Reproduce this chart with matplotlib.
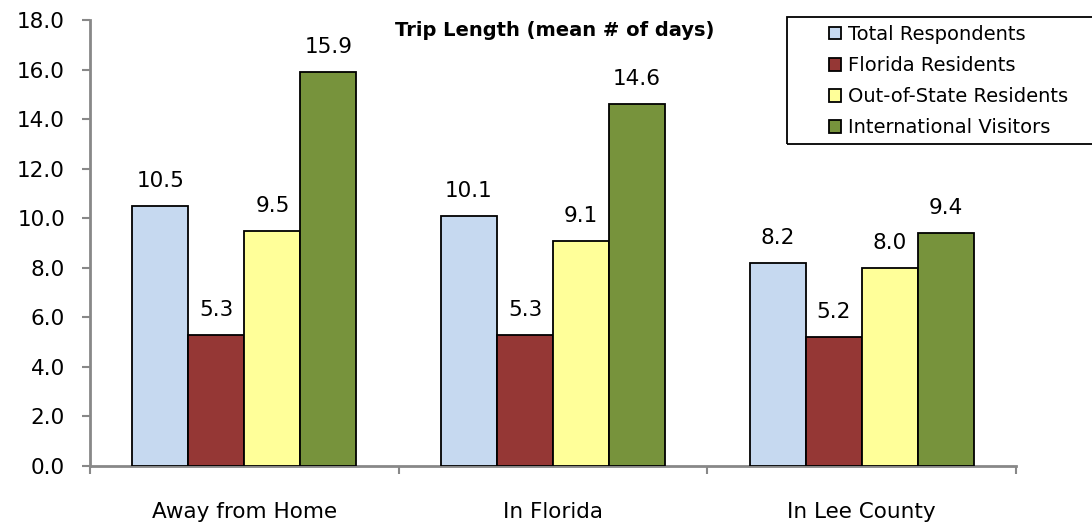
import matplotlib
matplotlib.use("Agg")
import matplotlib.pyplot as plt
import matplotlib.patches as mpatches
import numpy as np

plt.rcParams['font.family'] = ['DejaVu Sans']

categories = ["Away from Home", "In Florida", "In Lee County"]
series_names = ["Total Respondents", "Florida Residents", "Out-of-State Residents", "International Visitors"]
total = [10.5, 10.1, 8.2]
florida = [5.3, 5.3, 5.2]
out_of_state = [9.5, 9.1, 8.0]
international = [15.9, 14.6, 9.4]
colors = ["#C6D9F0", "#953735", "#FFFF99", "#77933C"]
yticks = [0, 2, 4, 6, 8, 10, 12, 14, 16, 18]

fig = plt.figure(figsize=(10.92, 5.26), dpi=100)
ax = fig.add_axes([90/1092, 1 - 466/526, (1016 - 90)/1092, (466 - 20)/526])

series = [total, florida, out_of_state, international]
n = len(series)
bw = 56/308.7
x = np.arange(len(categories))
handles = []
for i, (vals, col, name) in enumerate(zip(series, colors, series_names)):
    pos = x + (i - (n - 1)/2) * bw
    bars = ax.bar(pos, vals, width=bw, color=col, edgecolor='black', linewidth=1.3, label=name, zorder=3)
    handles.append(bars)
    for b, v in zip(bars, vals):
        ax.annotate(f"{v:.1f}", (b.get_x() + b.get_width()/2, v), xytext=(0, 13.5),
                    textcoords='offset points', ha='center', va='baseline', fontsize=15.5)

ax.set_xlim(-0.5, len(categories) - 0.5)
ax.set_ylim(0, 18)
ax.set_yticks(yticks)
ax.set_yticklabels([f"{t:.1f}" for t in yticks], fontsize=15.5)
ax.set_xticks(x)
ax.set_xticklabels(categories, fontsize=15.5)
ax.tick_params(axis='x', length=0, pad=26)
ax.set_xticks(np.arange(len(categories) + 1) - 0.5, minor=True)
ax.tick_params(axis='x', which='minor', length=6, color='#888888', width=1.5, direction='out')
ax.tick_params(axis='y', length=6, color='#888888', width=1.5, direction='out', pad=12)

for s in ['top', 'right']:
    ax.spines[s].set_visible(False)
for s in ['left', 'bottom']:
    ax.spines[s].set_color('#888888')
    ax.spines[s].set_linewidth(2)

fig.text(555/1092, 1 - 31/526, "Trip Length (mean # of days)", ha='center', va='center',
         fontsize=14, fontweight='bold')

# legend frame (extends beyond the right edge as in the original)
frame = mpatches.Rectangle((787/1092, 1 - 144/526), 0.3, 127/526, transform=fig.transFigure,
                           fill=False, edgecolor='black', linewidth=1.3, clip_on=False)
fig.patches.append(frame)

leg = fig.legend(handles=handles, labels=series_names, loc='upper left',
                 bbox_to_anchor=(829/1092, 1 - 25/526), fontsize=14,
                 frameon=False, handlelength=0.62, handleheight=0.62, handletextpad=0.36,
                 labelspacing=0.62, borderpad=0, borderaxespad=0)

fig.savefig("out.png", dpi=100)
